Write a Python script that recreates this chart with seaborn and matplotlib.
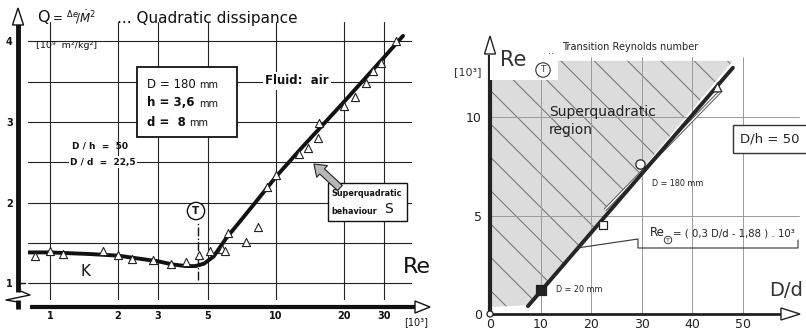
import matplotlib
matplotlib.use("Agg")
import matplotlib.pyplot as plt
import seaborn as sns
import numpy as np
import pandas as pd
from matplotlib.patches import Polygon, Rectangle, Circle, FancyArrow
from matplotlib.lines import Line2D
from matplotlib.transforms import IdentityTransform
from matplotlib.ticker import NullLocator, NullFormatter

# ---------------- data (left panel) ----------------
re_points = [0.86, 1.0, 1.14, 1.72, 2.0, 2.31, 2.86, 3.43, 4.0, 4.57, 5.1, 5.76,
             5.95, 6.14, 7.36, 8.32, 9.12, 10.0, 12.6, 13.9, 15.4, 15.5, 20.0,
             22.4, 25.0, 26.9, 29.2, 34.0]
q_points = [1.335, 1.40, 1.36, 1.40, 1.35, 1.30, 1.29, 1.24, 1.26, 1.35, 1.40, 1.42,
            1.40, 1.62, 1.51, 1.70, 2.19, 2.34, 2.60, 2.68, 2.80, 2.99, 3.20,
            3.31, 3.48, 3.63, 3.73, 4.0]
re_curve = [0.8, 1.0, 1.5, 2.0, 3.0, 3.5, 4.0, 4.4, 4.8, 5.3, 6.0, 7.0, 8.0, 10.0,
            13.0, 20.0, 30.0, 36.5]
q_curve = [1.38, 1.38, 1.36, 1.34, 1.27, 1.23, 1.21, 1.21, 1.24, 1.33, 1.55, 1.78,
           1.98, 2.32, 2.68, 3.25, 3.80, 4.07]
re_transition = 4.5
left_xticks = [1, 2, 3, 5, 10, 20, 30]
left_xlabels = ["1", "2", "3", "5", "10", "20", "30"]
left_yticks = [1, 2, 3, 4]
left_ygrid = [1.0, 1.5, 2.0, 2.5, 3.0, 3.5, 4.0]

# ---------------- data (right panel) ----------------
dd_line = [7.5, 48.0]
ret_line = [0.4, 12.5]
dd_shade = [0, 7.5, 48.0, 13.4, 13.4, 0]
ret_shade = [0.35, 0.45, 12.85, 12.85, 11.9, 11.9]
dd_d180 = [22.7, 45.4]
ret_d180 = [5.28, 11.27]
circle_pt = (29.7, 7.6)
triangle_pt = (44.9, 11.5)
open_square_pt = (22.4, 4.5)
filled_square_pt = (10.1, 1.2)
right_xticks = [0, 10, 20, 30, 40, 50]
right_yticks = [0, 5, 10]

W, H = 806, 330
sns.set_theme(style="white")
plt.rcParams["font.family"] = ["DejaVu Sans"]
plt.rcParams["hatch.linewidth"] = 0.7

fig = plt.figure(figsize=(W / 100, H / 100), dpi=100)
ID = IdentityTransform()


def fpos(x0, y0, x1, y1):
    return [x0 / W, 1 - y1 / H, (x1 - x0) / W, (y1 - y0) / H]


def T(x, y, s, **kw):
    kw.setdefault("va", "center")
    kw.setdefault("ha", "left")
    kw.setdefault("color", "#111")
    return fig.text(x, H - y, s, transform=ID, **kw)


def pline(xs, ys, **kw):
    kw.setdefault("color", "#111")
    fig.add_artist(Line2D(xs, [H - y for y in ys], transform=ID, **kw))


def ppoly(pts, **kw):
    fig.add_artist(Polygon([(x, H - y) for x, y in pts], closed=True,
                           transform=ID, **kw))


# ================= LEFT PANEL =================
axL = fig.add_axes(fpos(28, 22, 412, 300))
axL.set_xscale("log")
axL.set_xlim(0.799, 40.0)
axL.set_ylim(0.789, 4.242)
for s in axL.spines.values():
    s.set_visible(False)
for v in left_xticks:
    axL.axvline(v, color="#222", lw=0.8, zorder=0)
for v in left_ygrid:
    axL.axhline(v, color="#222", lw=0.8, zorder=0)

sns.lineplot(x=re_curve, y=q_curve, ax=axL, color="#111", lw=2.8, sort=False,
             estimator=None, zorder=2)
sns.scatterplot(x=re_points, y=q_points, ax=axL, marker="^", s=34, color="white",
                edgecolor="#222", linewidth=0.8, zorder=3)
axL.plot([re_transition, re_transition], [1.04, 1.76], color="#111", lw=1.0,
         ls="-.", zorder=2)

axL.set_xticks(left_xticks)
axL.set_xticklabels(left_xlabels)
axL.xaxis.set_minor_locator(NullLocator())
axL.xaxis.set_minor_formatter(NullFormatter())
axL.set_yticks(left_yticks)
axL.set_yticklabels([str(v) for v in left_yticks])
axL.tick_params(axis="x", length=0, pad=8, labelsize=7, labelcolor="#111")
axL.tick_params(axis="y", length=0, pad=11, labelsize=7, labelcolor="#111")
for lab in axL.get_xticklabels() + axL.get_yticklabels():
    lab.set_fontweight("bold")
axL.set_xlabel("")
axL.set_ylabel("")

# axes lines of left panel
pline([18, 18], [24, 292], lw=3.5, solid_capstyle="butt")
pline([18, 30, 6, 18], [290, 295, 300, 302], lw=1.0)
pline([18, 18], [300, 309], lw=3.5, solid_capstyle="butt")
pline([18, 25], [283, 283], lw=1.0)
ppoly([(18, 8), (12.5, 25), (23.5, 25)], fc="white", ec="#111", lw=1.0, zorder=5)
pline([30, 416], [307, 307], lw=3.0, solid_capstyle="butt")
ppoly([(430, 307), (415, 301), (415, 313)], fc="white", ec="#111", lw=1.0, zorder=5)

# title / labels
T(37, 18, "Q", fontsize=11.5)
T(50, 17, r"$=\,^{\Delta e}\!/\dot{M}^{2}$", fontsize=8.5)
T(117, 18, "... Quadratic dissipance", fontsize=11)
T(36, 45, "[10⁹  m²/kg²]", fontsize=6.8)

fig.add_artist(Rectangle((137, H - 137), 100, 70, transform=ID, fc="white",
                         ec="#111", lw=1.3, zorder=4))
T(147, 84, "D = 180", fontsize=8.5, zorder=5)
T(199, 85, "mm", fontsize=7, zorder=5)
T(147, 103, "h = 3,6", fontsize=8.5, fontweight="bold", zorder=5)
T(199, 104, "mm", fontsize=7, zorder=5)
T(147, 122, "d =  8", fontsize=8.5, fontweight="bold", zorder=5)
T(189, 123, "mm", fontsize=7, zorder=5)
T(265, 81, "Fluid:  air", fontsize=8.5, fontweight="bold",
  bbox=dict(fc="white", ec="none", pad=1.5), zorder=5)
T(72, 146, "D / h  =  50", fontsize=6.5, fontweight="bold")
T(70, 162, "D / d  =  22,5", fontsize=6.5, fontweight="bold",
  bbox=dict(fc="white", ec="none", pad=1.0), zorder=5)
T(80, 272, "K", fontsize=11)
T(403, 267, "Re", fontsize=16)
T(404, 322, "[10³]", fontsize=7)
T(196, 211, "T", fontsize=7.5, ha="center", fontweight="bold",
  bbox=dict(boxstyle="circle,pad=0.35", fc="white", ec="#111", lw=1.0), zorder=6)

fig.add_artist(Rectangle((328, H - 221), 79, 38, transform=ID, fc="white",
                         ec="#111", lw=1.0, zorder=4))
T(331, 194, "Superquadratic", fontsize=5.8, fontweight="bold", zorder=5)
T(331, 211, "behaviour", fontsize=5.8, fontweight="bold", zorder=5)
T(384, 209, "S", fontsize=10, zorder=5)
fig.add_artist(FancyArrow(340, H - 188, -26, 24, width=7, head_width=16,
                          head_length=11, transform=ID, fc="#b8b8b8", ec="#222",
                          lw=0.8, zorder=5, length_includes_head=True))

# ================= RIGHT PANEL =================
axR = fig.add_axes(fpos(490, 40, 800, 314))
axR.set_xlim(0, 61.26)
axR.set_ylim(0, 13.91)
for s in axR.spines.values():
    s.set_visible(False)

shade = Polygon(list(zip(dd_shade, ret_shade)), closed=True, fc="#dcdcdc",
                ec="#707070", lw=0, hatch="\\", zorder=0)
axR.add_patch(shade)
for v in right_xticks[1:]:
    axR.plot([v, v], [0, 13.05], color="#9a9a9a", lw=0.7, zorder=1)
for v in right_yticks[1:]:
    axR.plot([0, 61.0], [v, v], color="#9a9a9a", lw=0.7, zorder=1)

sns.lineplot(x=dd_line, y=ret_line, ax=axR, color="#262626", lw=2.8,
             estimator=None, sort=False, zorder=4)
axR.plot(dd_d180, ret_d180, color="#555", lw=2.4, zorder=3,
         solid_capstyle="butt")
axR.plot(dd_d180, ret_d180, color="white", lw=1.0, zorder=3,
         solid_capstyle="butt")

sns.scatterplot(x=[circle_pt[0]], y=[circle_pt[1]], ax=axR, marker="o", s=45,
                color="white", edgecolor="#222", linewidth=0.9, zorder=5)
sns.scatterplot(x=[triangle_pt[0]], y=[triangle_pt[1]], ax=axR, marker="^", s=40,
                color="white", edgecolor="#222", linewidth=0.9, zorder=5)
sns.scatterplot(x=[open_square_pt[0]], y=[open_square_pt[1]], ax=axR, marker="s",
                s=35, color="white", edgecolor="#222", linewidth=0.9, zorder=5)
sns.scatterplot(x=[filled_square_pt[0]], y=[filled_square_pt[1]], ax=axR,
                marker="s", s=45, color="#222", edgecolor="#222", linewidth=0.9,
                zorder=5)

axR.set_xticks(right_xticks)
axR.set_xticklabels([str(v) for v in right_xticks])
axR.set_yticks(right_yticks)
axR.set_yticklabels([str(v) for v in right_yticks])
axR.tick_params(axis="x", length=0, pad=3, labelsize=9, labelcolor="#222")
axR.tick_params(axis="y", length=0, pad=6, labelsize=9, labelcolor="#222")
axR.set_xlabel("")
axR.set_ylabel("")

# right axes lines
pline([490, 490], [55, 314], lw=3.0, color="#222", solid_capstyle="butt")
ppoly([(490, 36), (484.5, 54), (495.5, 54)], fc="white", ec="#222", lw=1.0, zorder=5)
pline([490, 782], [314, 314], lw=2.0, color="#222", solid_capstyle="butt")
ppoly([(800, 314), (781, 308), (781, 320)], fc="white", ec="#222", lw=1.0, zorder=5)
fig.add_artist(Circle((490, H - 314), 3, transform=ID, fc="white", ec="#222",
                      lw=0.9, zorder=6))

# right labels
fig.add_artist(Rectangle((490, H - 80), 68, 42, transform=ID, fc="white",
                         ec="none", zorder=2))
T(500, 60, "Re", fontsize=15, color="#333", zorder=3)
T(543, 70, "T", fontsize=6.5, ha="center", color="#333", zorder=3,
  bbox=dict(boxstyle="circle,pad=0.3", fc="white", ec="#333", lw=0.8))
T(454, 72, "[10³]", fontsize=8, color="#333")
T(548, 51, "..", fontsize=7, color="#555")
T(562, 47, "Transition Reynolds number", fontsize=7, color="#222")
T(549, 112, "Superquadratic", fontsize=10, color="#222")
T(549, 130, "region", fontsize=10, color="#222")
fig.add_artist(Rectangle((733, H - 153), 80, 28, transform=ID, fc="white",
                         ec="#333", lw=1.0, zorder=4))
T(740, 139, "D/h = 50", fontsize=9.5, color="#222", zorder=5)
T(652, 184, "D = 180 mm", fontsize=5.8, color="#222")
T(556, 290, "D = 20 mm", fontsize=5.8, color="#222")
T(769, 291, "D/d", fontsize=14, color="#333")
T(650, 233, "Re", fontsize=8.5, color="#222")
T(668, 240, "T", fontsize=4.5, ha="center", color="#222",
  bbox=dict(boxstyle="circle,pad=0.2", fc="white", ec="#222", lw=0.6))
T(673, 233, "= ( 0,3 D/d - 1,88 ) . 10³", fontsize=7.3, color="#222")
pline([577, 638, 638, 798, 798], [248, 239, 248, 248, 240], lw=0.8, color="#333")

fig.savefig("out.png", dpi=100)
